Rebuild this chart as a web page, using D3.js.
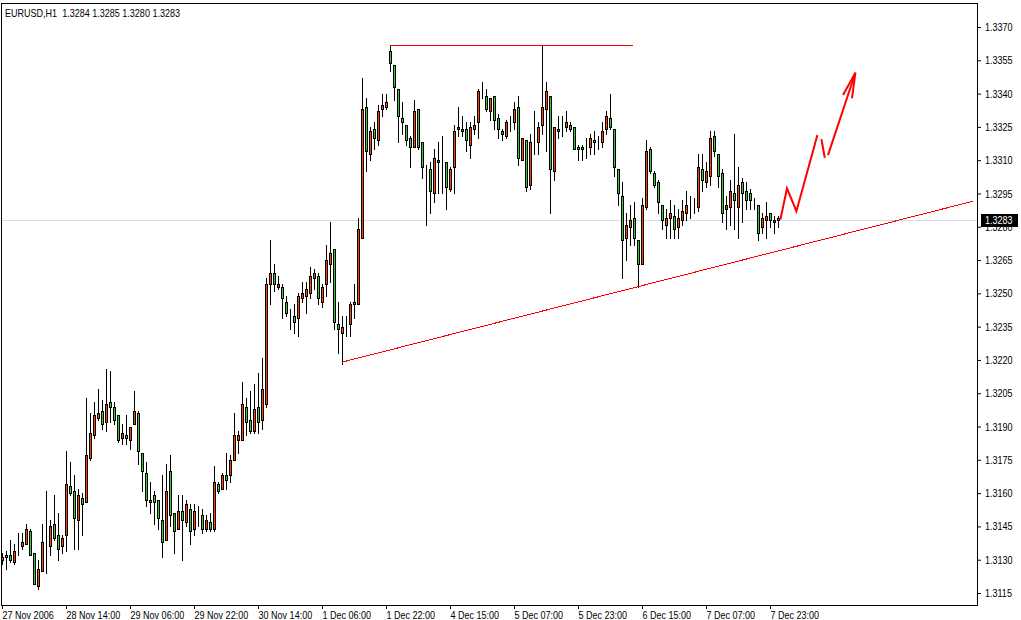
<!DOCTYPE html>
<html><head><meta charset="utf-8">
<script src="https://cdn.jsdelivr.net/npm/d3@7"></script>
<style>
html,body{margin:0;padding:0;background:#fff;overflow:hidden}
svg{display:block}
text{font-family:"Liberation Sans",Arial,sans-serif;font-size:11px;fill:#000}
</style></head><body>
<svg id="c" width="1021" height="620"></svg>
<script>
const chartTitle = "EURUSD,H1  1.3284 1.3285 1.3280 1.3283";
const bidPrice = 1.3283;

const opens = [1.3130,1.3132,1.3132,1.3129,1.3135,1.3136,1.3137,1.3143,1.3133,1.3118,1.3125,1.3137,1.3136,1.3146,1.3141,1.3136,1.3141,1.3163,1.3161,1.3148,
1.3158,1.3156,1.3176,1.3186,1.3194,1.3197,1.3192,1.3201,1.3199,1.3195,1.3185,1.3186,1.3184,1.3191,1.3196,1.3178,1.3169,1.3156,1.3159,1.3157,
1.3148,1.3139,1.3170,1.3151,1.3144,1.3152,1.3147,1.3153,1.3144,1.3151,1.3150,1.3144,1.3147,1.3144,1.3164,1.3162,1.3168,1.3168,1.3175,1.3184,
1.3184,1.3199,1.3193,1.3188,1.3199,1.3193,1.3200,1.3254,1.3259,1.3253,1.3253,1.3246,1.3240,1.3240,1.3239,1.3248,1.3249,1.3250,1.3257,1.3258,
1.3246,1.3254,1.3263,1.3270,1.3236,1.3232,1.3236,1.3236,1.3246,1.3245,1.3275,1.3334,1.3313,1.3324,1.3319,1.3333,1.3334,1.3359,1.3353,1.3342,
1.3329,1.3326,1.3320,1.3316,1.3333,1.3318,1.3307,1.3306,1.3295,1.3310,1.3310,1.3309,1.3297,1.3307,1.3324,1.3324,1.3324,1.3317,1.3324,1.3327,
1.3340,1.3339,1.3332,1.3339,1.3329,1.3323,1.3321,1.3326,1.3327,1.3334,1.3310,1.3319,1.3299,1.3317,1.3318,1.3326,1.3333,1.3339,1.3305,1.3324,
1.3324,1.3325,1.3326,1.3325,1.3316,1.3316,1.3316,1.3316,1.3319,1.3317,1.3318,1.3324,1.3329,1.3324,1.3306,1.3294,1.3275,1.3280,1.3284,1.3274,
1.3263,1.3289,1.3315,1.3304,1.3300,1.3290,1.3281,1.3284,1.3285,1.3280,1.3283,1.3286,1.3289,1.3288,1.3289,1.3306,1.3300,1.3303,1.3321,1.3313,
1.3304,1.3288,1.3289,1.3295,1.3289,1.3300,1.3296,1.3295,1.3290,1.3290,1.3280,1.3283,1.3286,1.3282,1.3284];
const highs = [1.3133,1.3134,1.3139,1.3137,1.3142,1.3142,1.3146,1.3144,1.3133,1.3130,1.3146,1.3161,1.3148,1.3159,1.3151,1.3141,1.3179,1.3174,1.3168,1.3162,
1.3160,1.3203,1.3196,1.3201,1.3207,1.3202,1.3216,1.3215,1.3201,1.3195,1.3191,1.3195,1.3190,1.3206,1.3197,1.3178,1.3174,1.3165,1.3161,1.3157,
1.3168,1.3173,1.3177,1.3151,1.3159,1.3159,1.3157,1.3155,1.3155,1.3154,1.3153,1.3150,1.3151,1.3172,1.3165,1.3169,1.3178,1.3177,1.3196,1.3188,
1.3210,1.3203,1.3206,1.3209,1.3214,1.3221,1.3257,1.3274,1.3263,1.3258,1.3254,1.3249,1.3243,1.3245,1.3250,1.3255,1.3255,1.3262,1.3261,1.3259,
1.3254,1.3272,1.3282,1.3270,1.3246,1.3240,1.3240,1.3246,1.3254,1.3284,1.3347,1.3338,1.3325,1.3327,1.3335,1.3340,1.3340,1.3362,1.3353,1.3342,
1.3336,1.3326,1.3321,1.3337,1.3333,1.3318,1.3308,1.3309,1.3315,1.3318,1.3321,1.3309,1.3307,1.3326,1.3334,1.3330,1.3327,1.3327,1.3330,1.3342,
1.3345,1.3342,1.3338,1.3339,1.3331,1.3324,1.3328,1.3330,1.3336,1.3339,1.3320,1.3319,1.3322,1.3332,1.3327,1.3362,1.3345,1.3339,1.3325,1.3330,
1.3330,1.3332,1.3327,1.3325,1.3317,1.3317,1.3320,1.3322,1.3323,1.3321,1.3327,1.3332,1.3340,1.3324,1.3306,1.3300,1.3286,1.3290,1.3291,1.3274,
1.3293,1.3319,1.3316,1.3305,1.3301,1.3290,1.3288,1.3292,1.3290,1.3288,1.3292,1.3296,1.3294,1.3293,1.3313,1.3313,1.3309,1.3323,1.3323,1.3313,
1.3306,1.3294,1.3301,1.3322,1.3307,1.3302,1.3300,1.3297,1.3293,1.3290,1.3286,1.3291,1.3286,1.3285,1.3285];
const lows = [1.3128,1.3126,1.3129,1.3128,1.3132,1.3135,1.3137,1.3132,1.3119,1.3117,1.3125,1.3124,1.3132,1.3139,1.3130,1.3133,1.3134,1.3159,1.3135,1.3135,
1.3141,1.3156,1.3175,1.3185,1.3193,1.3189,1.3188,1.3192,1.3191,1.3183,1.3182,1.3182,1.3180,1.3191,1.3173,1.3161,1.3154,1.3151,1.3146,1.3144,
1.3131,1.3139,1.3145,1.3133,1.3144,1.3130,1.3145,1.3137,1.3141,1.3145,1.3142,1.3143,1.3143,1.3143,1.3160,1.3162,1.3162,1.3165,1.3175,1.3178,
1.3184,1.3186,1.3187,1.3187,1.3187,1.3189,1.3199,1.3245,1.3251,1.3252,1.3239,1.3240,1.3234,1.3232,1.3231,1.3246,1.3241,1.3248,1.3252,1.3245,
1.3244,1.3249,1.3255,1.3234,1.3223,1.3218,1.3231,1.3231,1.3239,1.3245,1.3275,1.3305,1.3310,1.3315,1.3317,1.3330,1.3333,1.3350,1.3337,1.3318,
1.3322,1.3317,1.3307,1.3316,1.3315,1.3302,1.3281,1.3286,1.3291,1.3295,1.3295,1.3288,1.3296,1.3295,1.3321,1.3321,1.3314,1.3311,1.3322,1.3320,
1.3338,1.3332,1.3328,1.3324,1.3320,1.3319,1.3320,1.3323,1.3324,1.3308,1.3310,1.3296,1.3297,1.3313,1.3313,1.3322,1.3314,1.3286,1.3301,1.3320,
1.3321,1.3323,1.3323,1.3315,1.3310,1.3310,1.3311,1.3313,1.3313,1.3315,1.3316,1.3322,1.3324,1.3303,1.3290,1.3257,1.3265,1.3272,1.3272,1.3253,
1.3263,1.3288,1.3304,1.3298,1.3286,1.3279,1.3275,1.3275,1.3275,1.3275,1.3281,1.3283,1.3284,1.3286,1.3287,1.3296,1.3298,1.3299,1.3312,1.3298,
1.3282,1.3279,1.3281,1.3279,1.3275,1.3282,1.3288,1.3288,1.3288,1.3274,1.3277,1.3275,1.3280,1.3277,1.3280];
const closes = [1.3131,1.3131,1.3130,1.3134,1.3135,1.3138,1.3144,1.3132,1.3119,1.3126,1.3138,1.3137,1.3145,1.3140,1.3135,1.3140,1.3164,1.3160,1.3149,1.3159,
1.3155,1.3177,1.3187,1.3195,1.3196,1.3191,1.3200,1.3199,1.3193,1.3184,1.3187,1.3185,1.3190,1.3197,1.3179,1.3170,1.3157,1.3157,1.3156,1.3149,
1.3138,1.3161,1.3150,1.3143,1.3152,1.3148,1.3155,1.3143,1.3152,1.3151,1.3144,1.3148,1.3144,1.3165,1.3161,1.3168,1.3166,1.3175,1.3186,1.3186,
1.3200,1.3192,1.3188,1.3198,1.3192,1.3207,1.3254,1.3259,1.3254,1.3254,1.3248,1.3241,1.3240,1.3237,1.3249,1.3250,1.3252,1.3258,1.3259,1.3248,
1.3253,1.3265,1.3268,1.3237,1.3234,1.3235,1.3236,1.3245,1.3245,1.3279,1.3333,1.3314,1.3323,1.3320,1.3332,1.3335,1.3336,1.3354,1.3343,1.3330,
1.3327,1.3319,1.3316,1.3332,1.3316,1.3307,1.3307,1.3296,1.3311,1.3309,1.3310,1.3298,1.3306,1.3323,1.3325,1.3323,1.3319,1.3325,1.3326,1.3341,
1.3340,1.3333,1.3338,1.3328,1.3324,1.3322,1.3327,1.3326,1.3333,1.3311,1.3320,1.3298,1.3318,1.3317,1.3325,1.3334,1.3341,1.3306,1.3325,1.3323,
1.3324,1.3327,1.3324,1.3315,1.3315,1.3315,1.3316,1.3320,1.3318,1.3317,1.3323,1.3330,1.3325,1.3307,1.3295,1.3274,1.3281,1.3283,1.3275,1.3263,
1.3290,1.3314,1.3305,1.3299,1.3291,1.3283,1.3284,1.3286,1.3279,1.3284,1.3287,1.3290,1.3289,1.3288,1.3307,1.3301,1.3305,1.3320,1.3314,1.3303,
1.3286,1.3290,1.3296,1.3292,1.3299,1.3295,1.3292,1.3292,1.3290,1.3277,1.3284,1.3285,1.3283,1.3283,1.3283];

const priceTicks = [1.3370,1.3355,1.3340,1.3325,1.3310,1.3295,1.3280,1.3265,1.3250,1.3235,1.3220,1.3205,1.3190,1.3175,1.3160,1.3145,1.3130,1.3115];
const timeTickBars = [0,16,32,48,64,80,96,112,128,144,160,176,192];
const timeTickLabels = ["27 Nov 2006","28 Nov 14:00","29 Nov 06:00","29 Nov 22:00","30 Nov 14:00","1 Dec 06:00","1 Dec 22:00","4 Dec 15:00","5 Dec 07:00","5 Dec 23:00","6 Dec 15:00","7 Dec 07:00","7 Dec 23:00"];

// hand-drawn annotations, in (bar index, price)
const resistanceBars = [97, 157.75];
const resistancePrice = 1.3362;
const trendBars = [85, 242.75];
const trendPrices = [1.3219, 1.32915];
const zigBars1 = [194.6, 196.25, 198.6, 203.85];
const zigPrices1 = [1.32833, 1.32973, 1.32870, 1.33213];
const zigBars2 = [204.85, 205.7];
const zigPrices2 = [1.33195, 1.33111];
const zigBars3 = [206.5, 213.35];
const zigPrices3 = [1.33123, 1.33494];
const headBars = [210.25, 213.35, 212.5];
const headPrices = [1.33394, 1.33494, 1.33379];

const W = 1021, H = 620;
const plotL = 1, plotT = 3, plotR = 977, plotB = 605;
const bullColor = "#ff4500", bearColor = "#32cd32";
const narrow = 0.82;

function squeeze(sel) {
  sel.each(function () {
    const w = this.getComputedTextLength();
    d3.select(this).attr("textLength", (w * narrow).toFixed(1)).attr("lengthAdjust", "spacingAndGlyphs");
  });
}

const svg = d3.select("#c");
svg.append("rect").attr("width", W).attr("height", H).attr("fill", "#fff");

const x = d3.scaleLinear().domain([0, 243]).range([2, 974]);
const y = d3.scaleLinear().domain([1.3115, 1.3370]).range([593, 27]);

svg.append("defs").append("clipPath").attr("id", "pc")
  .append("rect").attr("x", plotL + 1).attr("y", plotT + 1).attr("width", plotR - plotL - 1).attr("height", plotB - plotT - 1);

const plot = svg.append("g").attr("clip-path", "url(#pc)");

// bid line
plot.append("line").attr("x1", plotL).attr("x2", plotR)
  .attr("y1", Math.round(y(bidPrice)) + 0.5).attr("y2", Math.round(y(bidPrice)) + 0.5)
  .attr("stroke", "#d8d8ee").attr("stroke-width", 1);

// candles
const idx = d3.range(opens.length);
const cg = plot.append("g").attr("shape-rendering", "crispEdges");
cg.selectAll("rect.wick").data(idx).join("rect").attr("class", "wick")
  .attr("x", i => x(i))
  .attr("y", i => Math.round(y(highs[i])))
  .attr("width", 1)
  .attr("height", i => Math.round(y(lows[i])) - Math.round(y(highs[i])) + 1)
  .attr("fill", "#000");
cg.selectAll("rect.body").data(idx).join("rect").attr("class", "body")
  .attr("x", i => x(i) - 0.5)
  .attr("y", i => Math.round(y(Math.max(opens[i], closes[i]))) + 0.5)
  .attr("width", 2)
  .attr("height", i => Math.round(y(Math.min(opens[i], closes[i]))) - Math.round(y(Math.max(opens[i], closes[i]))))
  .attr("fill", i => closes[i] > opens[i] ? bullColor : (closes[i] < opens[i] ? bearColor : "#000"))
  .attr("stroke", "#000").attr("stroke-width", 1);

// annotations
const ln = d3.line().x(d => x(d[0])).y(d => y(d[1]));
const ry = Math.round(y(resistancePrice)) + 0.5;
plot.append("line")
  .attr("x1", x(resistanceBars[0])).attr("x2", x(resistanceBars[1]))
  .attr("y1", ry).attr("y2", ry)
  .style("stroke", "#ff0000").style("stroke-width", "1px");
plot.append("path").attr("d", ln(d3.zip(trendBars, trendPrices)))
  .style("stroke", "#ff0000").attr("stroke-width", 1).attr("fill", "none").attr("shape-rendering", "crispEdges");
[[zigBars1, zigPrices1], [zigBars2, zigPrices2], [zigBars3, zigPrices3], [headBars, headPrices]].forEach(([b, p]) => {
  plot.append("path").attr("d", ln(d3.zip(b, p)))
    .style("stroke", "#ff0000").attr("stroke-width", 2).attr("fill", "none").attr("stroke-linejoin", "miter");
});

// frame
svg.append("rect").attr("x", plotL + 0.5).attr("y", plotT + 0.5)
  .attr("width", plotR - plotL).attr("height", plotB - plotT)
  .attr("fill", "none").attr("stroke", "#000").attr("shape-rendering", "crispEdges");

// right price axis
const yAxis = d3.axisRight(y).tickValues(priceTicks).tickFormat(d3.format(".4f")).tickSize(4).tickPadding(4);
const ya = svg.append("g").attr("transform", `translate(${plotR},0)`).call(yAxis);
ya.select(".domain").remove();
ya.attr("font-family", null).attr("font-size", null);
ya.selectAll("text").attr("fill", "#000").call(squeeze);
ya.selectAll("line").attr("stroke", "#000");

// current price box
const by = Math.round(y(bidPrice));
svg.append("rect").attr("x", plotR + 4).attr("y", by - 6).attr("width", 37).attr("height", 13).attr("fill", "#000");
svg.append("text").attr("x", plotR + 8).attr("y", by).attr("dy", "0.36em").style("fill", "#fff")
  .text(d3.format(".4f")(bidPrice)).call(squeeze);

// bottom time axis
const xAxis = d3.axisBottom(x).tickValues(timeTickBars).tickFormat((d, i) => timeTickLabels[i]).tickSize(4).tickPadding(2);
const xa = svg.append("g").attr("transform", `translate(0,${plotB})`).call(xAxis);
xa.select(".domain").remove();
xa.attr("font-family", null).attr("font-size", null);
xa.selectAll("text").attr("text-anchor", "start").attr("x", 0).attr("fill", "#000").call(squeeze);
xa.selectAll("line").attr("stroke", "#000");

// title
svg.append("text").attr("x", 5).attr("y", 17).style("white-space", "pre").text(chartTitle).call(squeeze);
</script>
</body></html>
